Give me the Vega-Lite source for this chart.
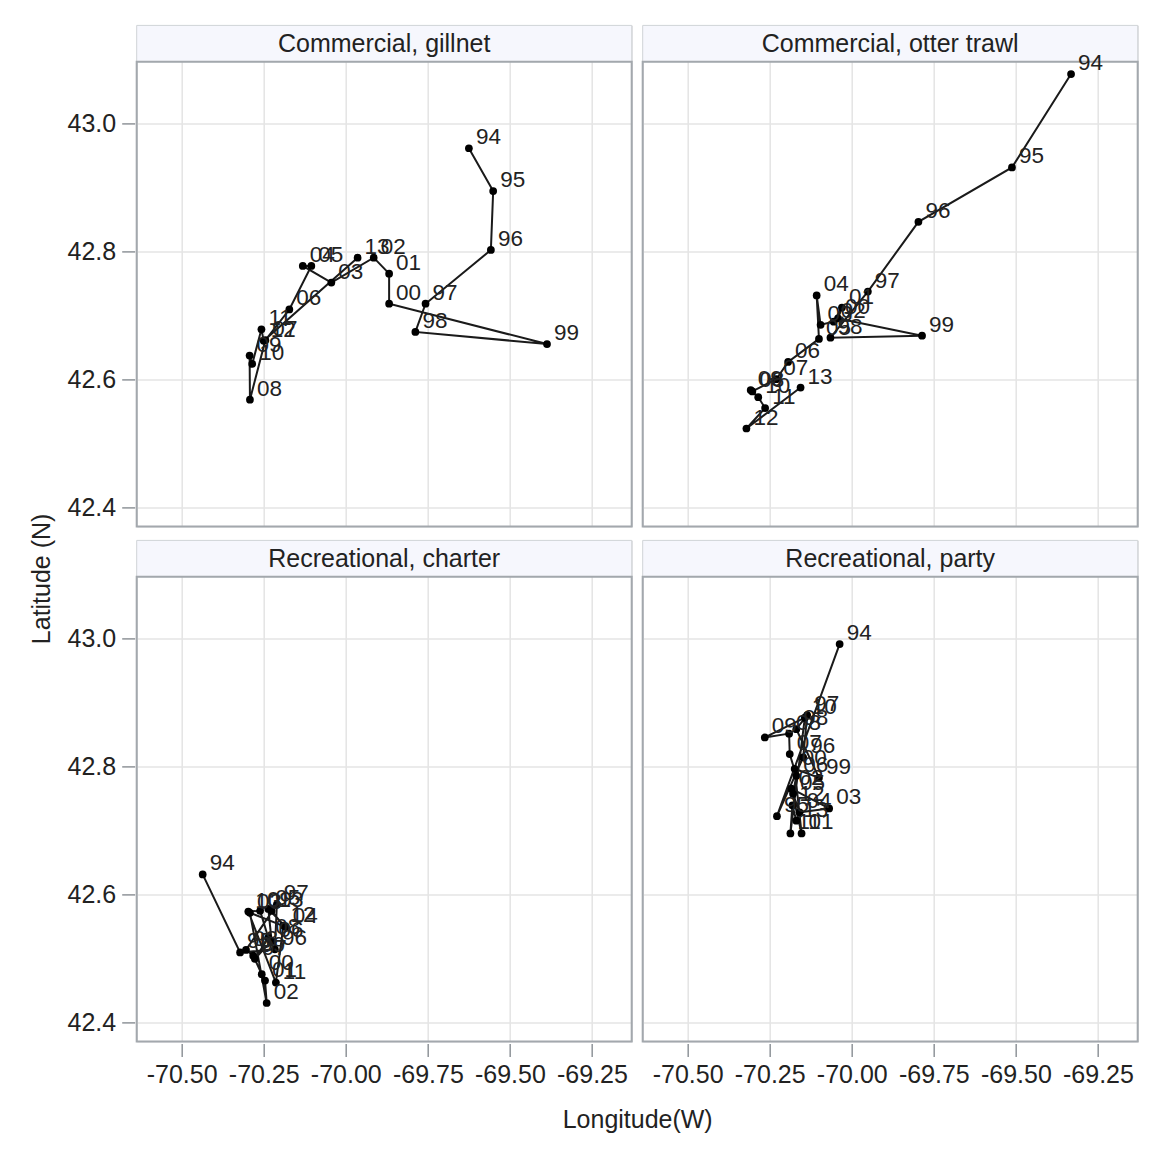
{
  "$schema": "https://vega.github.io/schema/vega-lite/v6.json",
  "background": "white",
  "padding": {"left": 29.7, "top": 24.4, "right": 8, "bottom": 8},
  "title": {"text": "Latitude (N)", "orient": "left", "anchor": "middle", "fontSize": 25, "fontWeight": "normal", "color": "#222222", "font": "Liberation Sans", "offset": 12},
  "data": {"values": [
    {"p": "Commercial, gillnet", "yr": "94", "i": 1, "lon": -69.625, "lat": 42.961},
    {"p": "Commercial, gillnet", "yr": "95", "i": 2, "lon": -69.551, "lat": 42.894},
    {"p": "Commercial, gillnet", "yr": "96", "i": 3, "lon": -69.558, "lat": 42.802},
    {"p": "Commercial, gillnet", "yr": "97", "i": 4, "lon": -69.757, "lat": 42.718},
    {"p": "Commercial, gillnet", "yr": "98", "i": 5, "lon": -69.788, "lat": 42.674},
    {"p": "Commercial, gillnet", "yr": "99", "i": 6, "lon": -69.387, "lat": 42.655},
    {"p": "Commercial, gillnet", "yr": "00", "i": 7, "lon": -69.868, "lat": 42.718},
    {"p": "Commercial, gillnet", "yr": "01", "i": 8, "lon": -69.868, "lat": 42.765},
    {"p": "Commercial, gillnet", "yr": "02", "i": 9, "lon": -69.915, "lat": 42.790},
    {"p": "Commercial, gillnet", "yr": "03", "i": 10, "lon": -70.044, "lat": 42.751},
    {"p": "Commercial, gillnet", "yr": "04", "i": 11, "lon": -70.131, "lat": 42.777},
    {"p": "Commercial, gillnet", "yr": "05", "i": 12, "lon": -70.105, "lat": 42.777},
    {"p": "Commercial, gillnet", "yr": "06", "i": 13, "lon": -70.172, "lat": 42.709},
    {"p": "Commercial, gillnet", "yr": "07", "i": 14, "lon": -70.245, "lat": 42.661},
    {"p": "Commercial, gillnet", "yr": "08", "i": 15, "lon": -70.292, "lat": 42.568},
    {"p": "Commercial, gillnet", "yr": "09", "i": 16, "lon": -70.293, "lat": 42.637},
    {"p": "Commercial, gillnet", "yr": "10", "i": 17, "lon": -70.285, "lat": 42.624},
    {"p": "Commercial, gillnet", "yr": "11", "i": 18, "lon": -70.257, "lat": 42.678},
    {"p": "Commercial, gillnet", "yr": "12", "i": 19, "lon": -70.250, "lat": 42.660},
    {"p": "Commercial, gillnet", "yr": "13", "i": 20, "lon": -69.964, "lat": 42.790},
    {"p": "Commercial, otter trawl", "yr": "94", "i": 1, "lon": -69.332, "lat": 43.077},
    {"p": "Commercial, otter trawl", "yr": "95", "i": 2, "lon": -69.512, "lat": 42.931},
    {"p": "Commercial, otter trawl", "yr": "96", "i": 3, "lon": -69.797, "lat": 42.846},
    {"p": "Commercial, otter trawl", "yr": "97", "i": 4, "lon": -69.951, "lat": 42.737},
    {"p": "Commercial, otter trawl", "yr": "98", "i": 5, "lon": -70.065, "lat": 42.665},
    {"p": "Commercial, otter trawl", "yr": "99", "i": 6, "lon": -69.786, "lat": 42.668},
    {"p": "Commercial, otter trawl", "yr": "00", "i": 7, "lon": -70.042, "lat": 42.695},
    {"p": "Commercial, otter trawl", "yr": "01", "i": 8, "lon": -70.030, "lat": 42.712},
    {"p": "Commercial, otter trawl", "yr": "02", "i": 9, "lon": -70.055, "lat": 42.690},
    {"p": "Commercial, otter trawl", "yr": "03", "i": 10, "lon": -70.095, "lat": 42.685},
    {"p": "Commercial, otter trawl", "yr": "04", "i": 11, "lon": -70.107, "lat": 42.731},
    {"p": "Commercial, otter trawl", "yr": "05", "i": 12, "lon": -70.100, "lat": 42.663},
    {"p": "Commercial, otter trawl", "yr": "06", "i": 13, "lon": -70.194, "lat": 42.627},
    {"p": "Commercial, otter trawl", "yr": "07", "i": 14, "lon": -70.230, "lat": 42.600},
    {"p": "Commercial, otter trawl", "yr": "08", "i": 15, "lon": -70.303, "lat": 42.581},
    {"p": "Commercial, otter trawl", "yr": "09", "i": 16, "lon": -70.308, "lat": 42.583},
    {"p": "Commercial, otter trawl", "yr": "10", "i": 17, "lon": -70.285, "lat": 42.572},
    {"p": "Commercial, otter trawl", "yr": "11", "i": 18, "lon": -70.264, "lat": 42.555},
    {"p": "Commercial, otter trawl", "yr": "12", "i": 19, "lon": -70.321, "lat": 42.523},
    {"p": "Commercial, otter trawl", "yr": "13", "i": 20, "lon": -70.156, "lat": 42.587},
    {"p": "Recreational, charter", "yr": "94", "i": 1, "lon": -70.436, "lat": 42.631},
    {"p": "Recreational, charter", "yr": "95", "i": 2, "lon": -70.322, "lat": 42.509},
    {"p": "Recreational, charter", "yr": "96", "i": 3, "lon": -70.216, "lat": 42.514},
    {"p": "Recreational, charter", "yr": "97", "i": 4, "lon": -70.210, "lat": 42.584},
    {"p": "Recreational, charter", "yr": "98", "i": 5, "lon": -70.304, "lat": 42.513},
    {"p": "Recreational, charter", "yr": "99", "i": 6, "lon": -70.282, "lat": 42.504},
    {"p": "Recreational, charter", "yr": "00", "i": 7, "lon": -70.256, "lat": 42.475},
    {"p": "Recreational, charter", "yr": "01", "i": 8, "lon": -70.246, "lat": 42.465},
    {"p": "Recreational, charter", "yr": "02", "i": 9, "lon": -70.241, "lat": 42.430},
    {"p": "Recreational, charter", "yr": "03", "i": 10, "lon": -70.292, "lat": 42.571},
    {"p": "Recreational, charter", "yr": "04", "i": 11, "lon": -70.183, "lat": 42.549},
    {"p": "Recreational, charter", "yr": "05", "i": 12, "lon": -70.236, "lat": 42.577},
    {"p": "Recreational, charter", "yr": "06", "i": 13, "lon": -70.226, "lat": 42.527},
    {"p": "Recreational, charter", "yr": "07", "i": 14, "lon": -70.277, "lat": 42.499},
    {"p": "Recreational, charter", "yr": "08", "i": 15, "lon": -70.236, "lat": 42.532},
    {"p": "Recreational, charter", "yr": "09", "i": 16, "lon": -70.261, "lat": 42.574},
    {"p": "Recreational, charter", "yr": "10", "i": 17, "lon": -70.297, "lat": 42.573},
    {"p": "Recreational, charter", "yr": "11", "i": 18, "lon": -70.213, "lat": 42.462},
    {"p": "Recreational, charter", "yr": "12", "i": 19, "lon": -70.190, "lat": 42.551},
    {"p": "Recreational, charter", "yr": "13", "i": 20, "lon": -70.226, "lat": 42.574},
    {"p": "Recreational, party", "yr": "94", "i": 1, "lon": -70.037, "lat": 42.991},
    {"p": "Recreational, party", "yr": "95", "i": 2, "lon": -70.228, "lat": 42.722},
    {"p": "Recreational, party", "yr": "96", "i": 3, "lon": -70.148, "lat": 42.814},
    {"p": "Recreational, party", "yr": "97", "i": 4, "lon": -70.136, "lat": 42.880},
    {"p": "Recreational, party", "yr": "98", "i": 5, "lon": -70.169, "lat": 42.858},
    {"p": "Recreational, party", "yr": "99", "i": 6, "lon": -70.100, "lat": 42.782},
    {"p": "Recreational, party", "yr": "00", "i": 7, "lon": -70.174, "lat": 42.796},
    {"p": "Recreational, party", "yr": "01", "i": 8, "lon": -70.153, "lat": 42.695},
    {"p": "Recreational, party", "yr": "02", "i": 9, "lon": -70.184, "lat": 42.765},
    {"p": "Recreational, party", "yr": "03", "i": 10, "lon": -70.069, "lat": 42.734},
    {"p": "Recreational, party", "yr": "04", "i": 11, "lon": -70.159, "lat": 42.728},
    {"p": "Recreational, party", "yr": "05", "i": 12, "lon": -70.179, "lat": 42.757},
    {"p": "Recreational, party", "yr": "06", "i": 13, "lon": -70.169, "lat": 42.785},
    {"p": "Recreational, party", "yr": "07", "i": 14, "lon": -70.189, "lat": 42.819},
    {"p": "Recreational, party", "yr": "08", "i": 15, "lon": -70.191, "lat": 42.851},
    {"p": "Recreational, party", "yr": "09", "i": 16, "lon": -70.265, "lat": 42.845},
    {"p": "Recreational, party", "yr": "10", "i": 17, "lon": -70.143, "lat": 42.876},
    {"p": "Recreational, party", "yr": "11", "i": 18, "lon": -70.187, "lat": 42.695},
    {"p": "Recreational, party", "yr": "12", "i": 19, "lon": -70.181, "lat": 42.739},
    {"p": "Recreational, party", "yr": "13", "i": 20, "lon": -70.169, "lat": 42.715}
  ]},
  "facet": {"field": "p", "type": "nominal", "title": "Longitude(W)",
            "header": {"titleOrient": "bottom", "titleFontSize": 25, "titleFontWeight": "normal", "titleColor": "#222222", "titleFont": "Liberation Sans", "titlePadding": 21,
                       "labelFontSize": 0, "labelExpr": "''", "labelPadding": 0}},
  "columns": 2,
  "spacing": {"row": 11, "column": 7},
  "spec": {
    "width": 495,
    "height": 501,
    "layer": [
      {
        "transform": [{"aggregate": [{"op": "count", "as": "n"}], "groupby": ["p"]}],
        "mark": {"type": "rect", "fill": "#f6f7fd", "stroke": "#d2d5d8", "strokeWidth": 1},
        "encoding": {
          "x": {"datum": -70.637, "type": "quantitative", "title": null,
                "scale": {"domain": [-70.637, -69.129], "nice": false, "zero": false},
                "axis": {"values": [-70.5, -70.25, -70, -69.75, -69.5, -69.25], "labelExpr": "(datum.value < 0 ? '-' : '') + format(abs(datum.value), '.2f')"}},
          "x2": {"datum": -69.129},
          "y": {"datum": 43.0963, "type": "quantitative", "title": null,
                "scale": {"domain": [42.370, 43.153], "nice": false, "zero": false},
                "axis": {"values": [42.4, 42.6, 42.8, 43.0], "format": ".1f"}},
          "y2": {"datum": 43.153}
        }
      },
      {
        "transform": [{"aggregate": [{"op": "count", "as": "n"}], "groupby": ["p"]}],
        "mark": {"type": "text", "fontSize": 25, "color": "#222222", "baseline": "middle", "align": "center"},
        "encoding": {
          "x": {"datum": -69.883, "type": "quantitative", "title": null},
          "y": {"datum": 43.1245, "type": "quantitative", "title": null},
          "text": {"field": "p", "type": "nominal"}
        }
      },
      {
        "transform": [{"aggregate": [{"op": "count", "as": "n"}], "groupby": ["p"]}],
        "mark": {"type": "rect", "fill": null, "fillOpacity": 0, "stroke": "#a3a8ad", "strokeWidth": 2},
        "encoding": {
          "x": {"datum": -70.637, "type": "quantitative", "title": null},
          "x2": {"datum": -69.129},
          "y": {"datum": 42.370, "type": "quantitative", "title": null},
          "y2": {"datum": 43.0963}
        }
      },
      {
        "mark": {"type": "line", "color": "#1a1a1a", "strokeWidth": 2},
        "encoding": {
          "x": {"field": "lon", "type": "quantitative", "title": null},
          "y": {"field": "lat", "type": "quantitative", "title": null},
          "order": {"field": "i", "type": "quantitative"}
        }
      },
      {
        "mark": {"type": "point", "filled": true, "color": "#000000", "opacity": 1, "size": 60},
        "encoding": {
          "x": {"field": "lon", "type": "quantitative", "title": null},
          "y": {"field": "lat", "type": "quantitative", "title": null}
        }
      },
      {
        "mark": {"type": "text", "fontSize": 22.5, "color": "#222222", "align": "left", "baseline": "middle", "dx": 7, "dy": -11},
        "encoding": {
          "x": {"field": "lon", "type": "quantitative", "title": null},
          "y": {"field": "lat", "type": "quantitative", "title": null},
          "text": {"field": "yr", "type": "nominal"}
        }
      }
    ]
  },
  "config": {
    "font": "Liberation Sans",
    "view": {"stroke": "#d2d5d8", "strokeWidth": 1},
    "axis": {
      "domain": false,
      "grid": true,
      "gridColor": "#e4e4e4",
      "gridWidth": 1.5,
      "tickColor": "#8f9499",
      "tickSize": 13,
      "tickWidth": 1.5,
      "labelFontSize": 25,
      "labelColor": "#222222",
      "labelPadding": 6,
      "labelFlush": false,
      "labelOverlap": false
    }
  }
}
